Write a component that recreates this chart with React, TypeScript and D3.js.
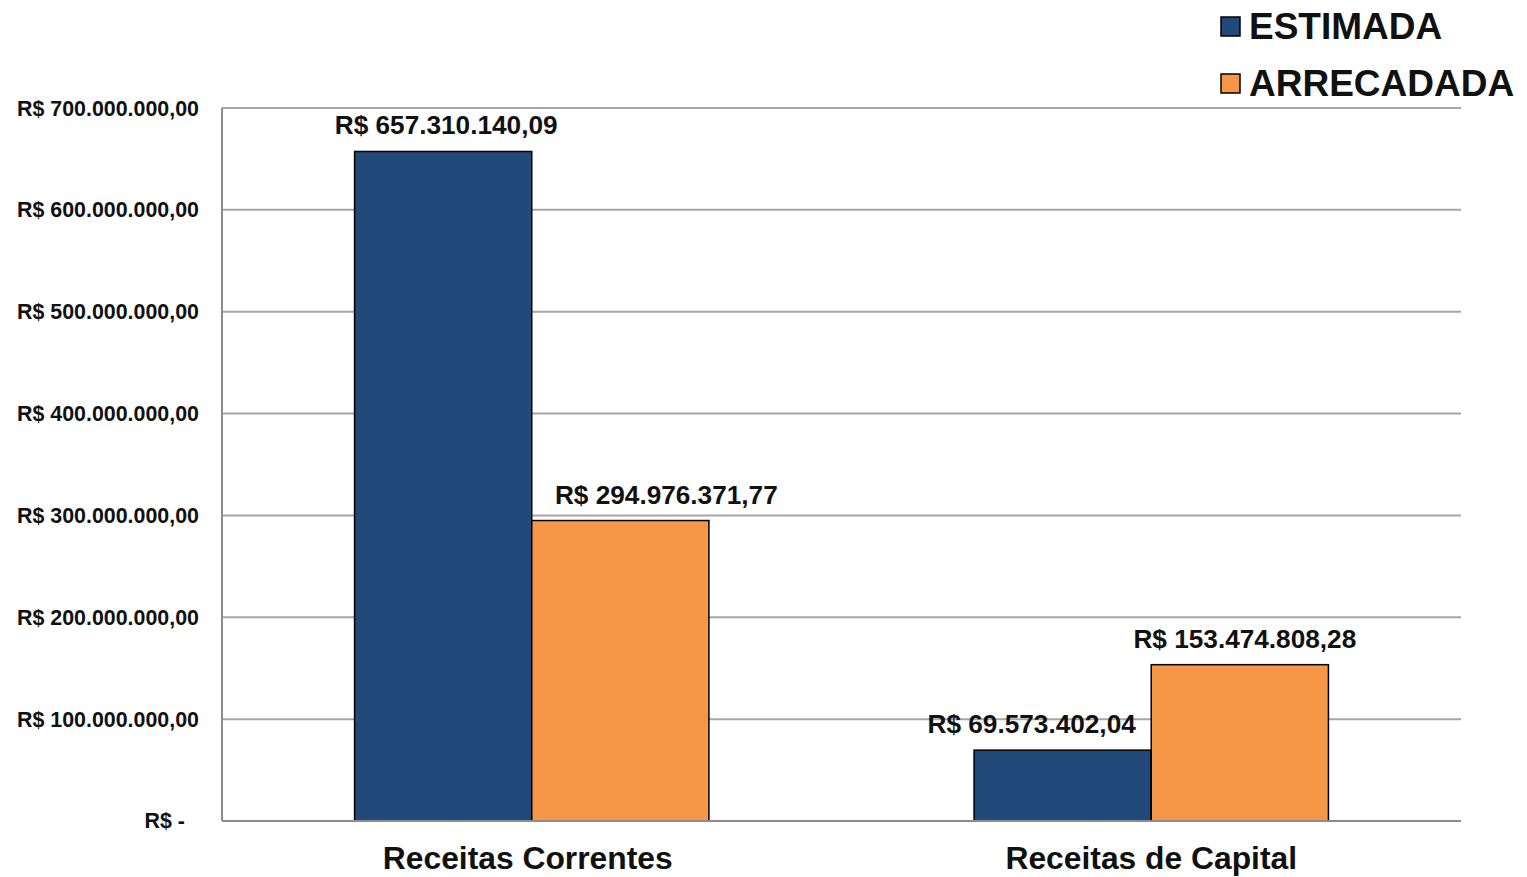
import React, { useEffect, useRef } from "react";
import * as d3 from "d3";

const categories = ["Receitas Correntes", "Receitas de Capital"];
const seriesNames = ["ESTIMADA", "ARRECADADA"];
const estimada = [657310140.09, 69573402.04];
const arrecadada = [294976371.77, 153474808.28];
const yTicks = [0, 100000000, 200000000, 300000000, 400000000, 500000000, 600000000, 700000000];

const colors = ["#214a7b", "#f69647"];
// horizontal nudges of the value labels, as in the original slide
const labelShift = [[3, 46], [-31, 5]];

const W = 1527, H = 877;
const margin = { top: 108, right: 66, bottom: 56, left: 222 };

const fmtNum = (v: number) => {
  const [i, d] = v.toFixed(2).split(".");
  return "R$ " + i.replace(/\B(?=(\d{3})+(?!\d))/g, ".") + "," + d;
};

export default function App() {
  const ref = useRef<SVGSVGElement>(null);

  useEffect(() => {
    const svg = d3.select(ref.current);
    svg.selectAll("*").remove();
    const width = W - margin.left - margin.right;
    const height = H - margin.top - margin.bottom;

    const x0 = d3.scaleBand().domain(categories).range([0, width]).paddingInner(0).paddingOuter(0);
    const x1 = d3.scaleBand().domain(seriesNames).range([0, x0.bandwidth() * 0.572]);
    const y = d3.scaleLinear().domain([0, 700000000]).range([height, 0]);

    const g = svg.append("g").attr("transform", `translate(${margin.left},${margin.top})`);

    // gridlines
    g.selectAll(".grid").data(yTicks.filter(t => t > 0)).join("line")
      .attr("x1", 0).attr("x2", width)
      .attr("y1", d => y(d)).attr("y2", d => y(d))
      .attr("stroke", "#a6a6a6").attr("stroke-width", 2);

    // y labels
    g.selectAll(".ylab").data(yTicks).join("text")
      .attr("x", d => (d === 0 ? -37 : -23))
      .attr("y", d => y(d))
      .attr("dy", "0.35em")
      .attr("text-anchor", "end")
      .attr("font-family", "Liberation Sans, Arial, sans-serif")
      .attr("font-weight", "bold")
      .attr("font-size", 21.4)
      .attr("fill", "#111")
      .text(d => (d === 0 ? "R$ -" : fmtNum(d)));

    const data = categories.map((c, i) => ({ cat: c, vals: [estimada[i], arrecadada[i]] }));

    const groups = g.selectAll(".grp").data(data).join("g")
      .attr("transform", d => `translate(${x0(d.cat)! + (x0.bandwidth() - x1.range()[1]) / 2},0)`);

    groups.selectAll("rect").data(d => d.vals.map((v, j) => ({ v, j }))).join("rect")
      .attr("x", d => x1(seriesNames[d.j])!)
      .attr("y", d => y(d.v))
      .attr("width", x1.bandwidth())
      .attr("height", d => height - y(d.v))
      .attr("fill", d => colors[d.j])
      .attr("stroke", "#000")
      .attr("stroke-width", 1.5);

    groups.each(function (d, i) {
      d3.select(this).selectAll("text.val").data(d.vals.map((v, j) => ({ v, j }))).join("text")
        .attr("x", e => x1(seriesNames[e.j])! + x1.bandwidth() / 2 + labelShift[i][e.j])
        .attr("y", e => y(e.v) - 17)
        .attr("text-anchor", "middle")
        .attr("font-family", "Liberation Sans, Arial, sans-serif")
        .attr("font-weight", "bold")
        .attr("font-size", 26.2)
        .attr("fill", "#111")
        .text(e => fmtNum(e.v));
    });

    // axes lines
    g.append("line").attr("x1", 0).attr("x2", 0).attr("y1", 0).attr("y2", height)
      .attr("stroke", "#8c8c8c").attr("stroke-width", 2);
    g.append("line").attr("x1", 0).attr("x2", width).attr("y1", height).attr("y2", height)
      .attr("stroke", "#8c8c8c").attr("stroke-width", 2);

    // category labels
    g.selectAll(".xlab").data(categories).join("text")
      .attr("x", (d, i) => x0(d)! + x0.bandwidth() / 2 + (i === 0 ? -4 : 0))
      .attr("y", height + 48)
      .attr("text-anchor", "middle")
      .attr("font-family", "Liberation Sans, Arial, sans-serif")
      .attr("font-weight", "bold")
      .attr("font-size", 31.8)
      .attr("fill", "#111")
      .text(d => d);

    // legend
    const leg = svg.append("g").attr("transform", "translate(1221,0)");
    seriesNames.forEach((s, i) => {
      const cy = 26 + i * 57;
      leg.append("rect").attr("x", 0).attr("y", cy - 9).attr("width", 19).attr("height", 19)
        .attr("fill", colors[i]).attr("stroke", "#000").attr("stroke-width", 1.5);
      leg.append("text").attr("x", 28).attr("y", cy).attr("dy", "0.35em")
        .attr("font-family", "Liberation Sans, Arial, sans-serif")
        .attr("font-weight", "bold")
        .attr("font-size", 37)
        .attr("fill", "#111")
        .text(s);
    });
  }, []);

  return (
    <svg ref={ref} width={W} height={H}
      style={{ position: "absolute", left: 0, top: 0, background: "#fff" }} />
  );
}
